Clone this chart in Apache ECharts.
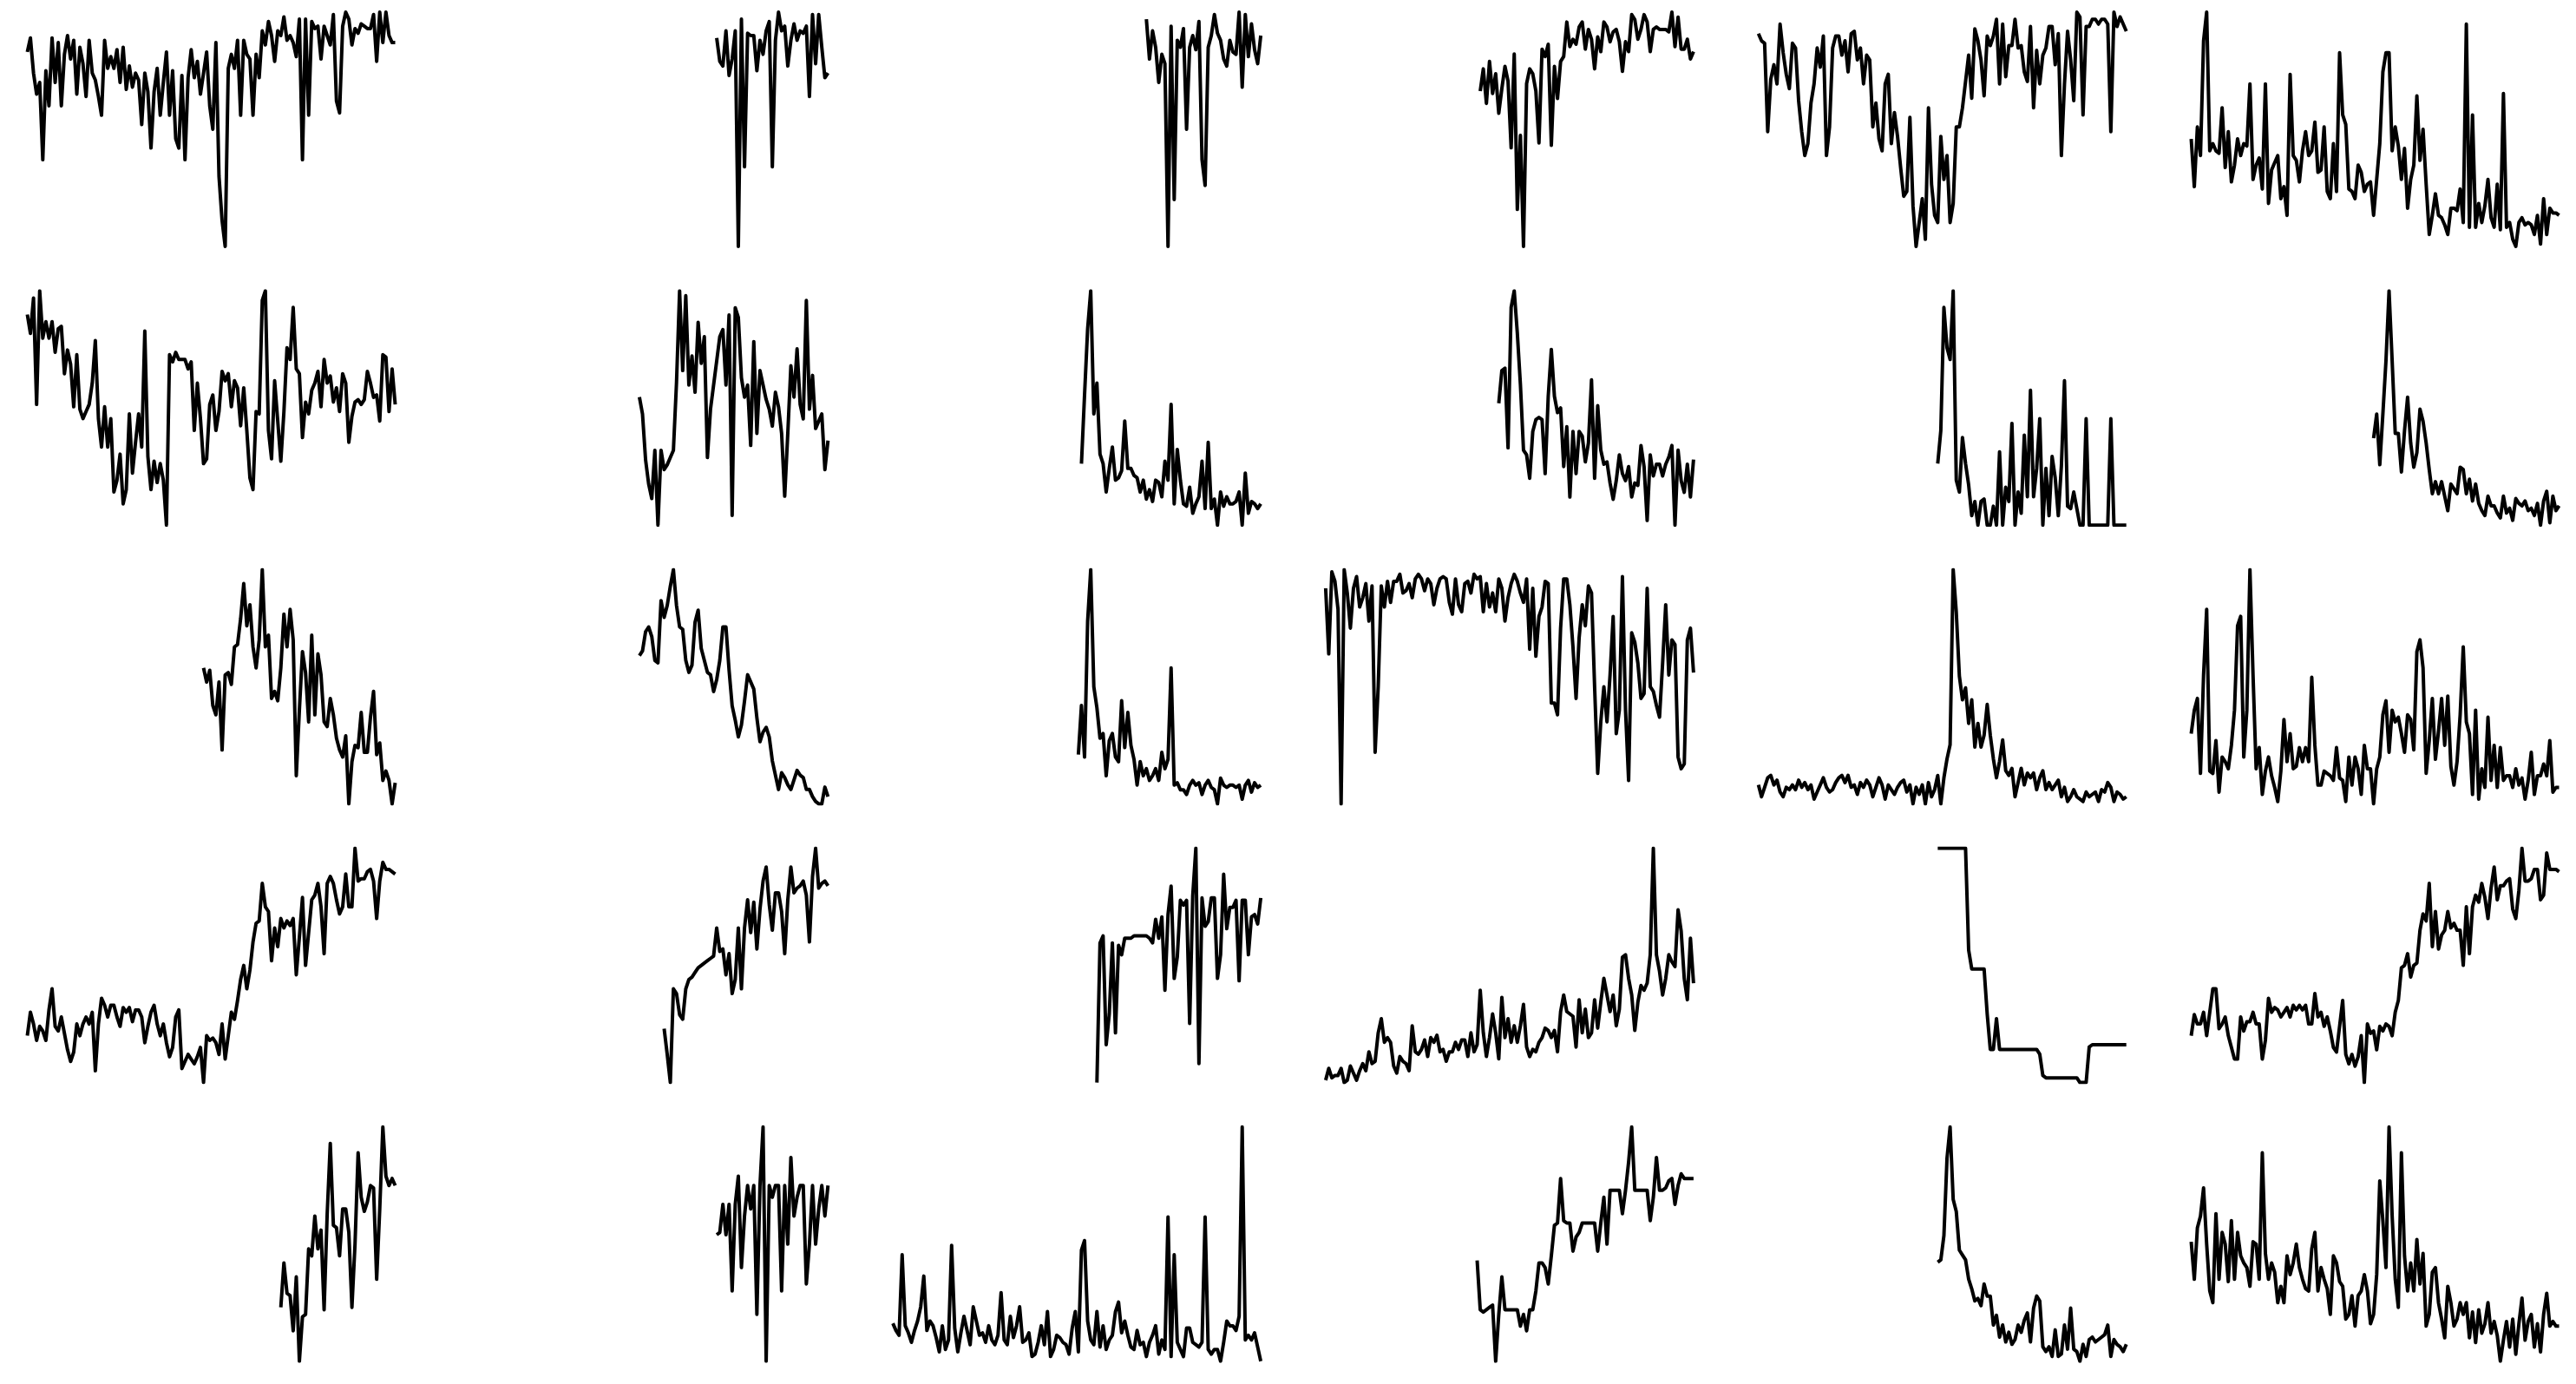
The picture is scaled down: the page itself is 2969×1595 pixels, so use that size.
<!DOCTYPE html>
<html>
<head>
<meta charset="utf-8">
<script src="https://cdn.jsdelivr.net/npm/echarts@6/dist/echarts.min.js"></script>
<style>
html,body{margin:0;padding:0;background:#fff;}
#chart{width:2969px;height:1595px;}
</style>
</head>
<body>
<div id="chart"></div>
<script>
// Shared time axis: 120 periods; every series ends at the latest period.
const N = 120;
const periods = Array.from({length: N}, (_, i) => 'P' + (i + 1));

// Row 1
const s01 = [83,89,74,65,70,37,75,60,89,70,87,60,82,90,80,88,65,85,78,64,88,74,71,64,56,88,76,81,76,84,70,85,67,77,68,74,71,52,74,66,42,66,76,56,70,83,56,75,46,42,73,37,72,84,72,79,65,74,83,60,50,87,30,11,0,76,82,76,88,56,88,82,80,56,82,72,92,86,96,90,79,92,90,98,88,90,87,81,97,37,97,56,96,93,94,80,94,90,86,99,62,57,94,100,97,86,93,91,95,94,93,93,99,79,100,87,100,90,87,87];
const s02 = [89,79,77,92,73,80,92,0,97,34,91,90,90,75,88,82,92,96,34,88,100,92,94,77,88,95,88,92,91,94,64,99,78,99,85,72,74];
const s03 = [97,80,92,85,70,82,78,0,94,20,88,85,93,50,85,90,84,96,37,26,85,90,99,91,88,80,77,88,83,82,100,68,99,81,95,84,78,90];
const s04 = [68,77,63,80,67,75,59,69,78,72,45,83,20,50,5,71,77,75,68,47,85,82,87,46,78,65,80,82,96,86,89,87,94,96,85,93,89,77,90,84,96,94,88,92,93,88,76,88,84,99,97,89,93,99,96,84,93,94,93,93,93,92,100,86,98,85,85,89,81,84];
const s05 = [91,88,87,50,72,78,70,95,83,74,68,87,85,63,50,40,45,62,70,85,77,90,40,52,85,90,90,82,88,75,91,92,80,85,70,82,80,52,62,47,42,70,74,45,58,48,35,23,25,56,19,2,12,22,5,60,28,15,12,48,30,40,12,20,52,52,60,71,82,64,93,88,80,65,90,86,90,97,70,95,73,86,86,97,85,86,75,71,94,60,84,70,82,85,94,94,78,91,40,70,92,80,63,100,98,57,94,94,97,97,95,97,97,95,50,100,94,98,95,92];
const s06 = [47,27,52,40,88,100,42,45,42,41,60,35,50,29,36,47,40,45,44,70,30,36,39,26,70,20,34,37,40,22,27,15,74,40,38,29,42,50,40,42,54,33,34,52,25,22,45,25,83,57,53,26,25,22,36,33,25,28,29,15,30,45,75,83,83,42,52,44,30,43,18,30,36,65,38,51,28,7,15,24,15,14,11,7,18,18,17,26,12,95,10,57,10,20,12,19,30,14,10,28,9,66,10,12,5,2,12,14,11,12,11,7,15,3,22,7,18,16,16,15];
// Row 2
const s07 = [89,81,96,51,99,79,86,79,86,73,83,84,64,74,68,50,72,49,45,48,51,60,78,45,33,50,33,45,14,19,30,9,15,47,22,35,47,33,82,29,15,27,18,26,19,0,72,69,73,70,70,70,66,69,40,60,45,26,28,51,55,40,48,65,61,64,50,61,58,42,58,40,20,15,48,47,95,99,40,28,61,44,27,48,75,70,92,66,64,37,52,47,57,60,65,50,70,60,63,52,58,48,64,60,35,46,52,53,51,53,65,60,54,55,44,72,71,48,66,51];
const s08 = [55,48,29,19,13,33,2,33,25,27,30,33,61,99,66,97,60,72,57,86,69,80,30,50,60,70,80,83,60,89,6,92,88,63,55,60,35,78,40,66,60,54,50,43,57,51,40,14,40,68,55,75,52,46,95,50,64,42,45,48,25,37];
const s09 = [26,55,83,99,47,60,30,26,14,24,33,19,20,23,44,24,24,21,20,14,19,11,15,10,19,18,12,27,19,51,9,32,19,9,8,16,5,9,12,27,7,35,7,11,0,14,8,12,9,9,10,14,0,22,5,10,9,7,9];
const s10 = [52,66,67,33,93,100,82,60,32,30,20,40,45,46,45,22,55,75,55,48,50,25,42,12,40,22,40,38,27,35,62,20,51,32,26,27,18,11,19,30,22,19,25,12,18,17,34,25,2,30,21,26,26,21,26,29,34,0,32,19,14,26,12,28];
const s11 = [26,40,92,75,70,99,19,14,37,26,17,4,10,0,10,11,0,0,8,0,31,0,16,10,43,0,14,5,38,12,57,12,24,45,0,24,4,29,20,4,25,61,8,7,14,7,0,0,45,0,0,0,0,0,0,0,45,0,0,0,0,0];
const s12 = [38,48,27,48,70,99,70,40,40,24,41,55,36,26,32,50,45,36,25,15,20,15,20,14,8,19,17,15,26,25,15,21,12,19,11,8,6,14,10,10,7,5,14,7,9,4,13,11,10,12,8,9,6,11,2,12,16,3,14,8,10];
// Row 3
const s13 = [58,52,57,42,38,52,23,55,56,51,67,68,79,94,76,85,67,58,70,100,67,72,45,48,44,58,81,67,83,70,12,40,65,56,35,72,38,64,55,35,33,45,38,28,23,20,29,0,18,25,24,39,22,22,37,48,21,26,10,14,10,0,9];
const s14 = [64,66,74,76,72,62,61,87,80,85,93,100,85,76,75,62,57,60,78,83,67,62,57,56,49,54,62,76,76,58,43,37,30,35,45,56,53,50,38,28,32,34,30,20,14,8,15,13,10,8,12,16,14,13,8,8,5,3,2,2,9,5];
const s15 = [21,42,20,78,100,50,41,28,30,12,27,30,20,18,44,24,39,25,19,8,18,12,15,10,12,15,10,22,15,19,58,8,9,6,6,4,8,10,8,9,4,8,10,7,6,0,11,8,7,8,8,7,8,2,8,10,5,9,7,8];
const s16 = [92,64,99,95,83,0,100,90,75,92,97,84,88,94,78,93,22,50,93,84,95,86,95,95,98,90,91,94,88,96,98,96,91,96,94,85,92,96,97,96,86,81,96,85,82,94,95,90,98,96,97,82,94,84,90,82,96,92,78,88,94,98,95,90,86,96,66,92,63,80,84,95,94,43,43,38,75,96,96,85,67,45,71,85,76,93,90,50,13,35,50,35,55,80,30,40,97,40,10,73,69,60,45,47,92,50,48,42,37,60,85,55,70,68,20,15,17,70,75,56];
const s17 = [9,4,8,12,13,9,11,6,4,8,7,9,7,11,8,10,7,9,3,6,9,12,8,6,7,10,12,13,10,13,8,9,5,10,8,11,9,4,8,12,9,3,9,7,5,8,10,11,6,9,1,8,5,9,1,10,4,7,13,1,12,20,26,100,82,55,45,50,35,45,25,35,25,30,43,30,20,12,19,28,15,13,16,4,10,16,9,14,12,14,7,12,15,7,10,7,9,11,4,8,2,4,7,4,3,2,6,4,5,6,2,7,6,10,8,2,6,5,3,4];
const s18 = [30,40,45,13,55,83,14,13,27,5,20,18,15,25,40,76,80,20,40,100,55,15,24,4,14,20,12,7,1,14,36,18,30,15,16,24,18,24,18,54,25,8,8,14,13,12,10,24,11,10,1,20,8,20,15,4,25,15,15,0,15,20,38,44,22,40,35,37,30,22,38,36,23,65,70,58,13,27,45,19,31,45,25,46,16,8,18,38,67,35,30,4,40,2,15,7,37,10,25,7,24,10,12,12,7,15,8,11,2,10,22,4,12,12,17,12,27,5,7,7];
// Row 4
const s19 = [20,30,25,18,24,22,18,31,40,24,22,28,21,14,9,13,25,20,25,28,25,30,5,25,36,33,28,33,33,28,24,32,30,32,26,31,31,28,17,24,30,33,25,20,25,17,11,15,28,31,6,9,12,10,8,11,15,0,20,18,19,17,12,25,10,20,30,27,35,44,50,40,48,60,68,69,85,75,73,52,66,58,70,66,69,67,70,46,62,79,50,64,78,80,85,75,55,85,88,85,78,72,75,89,75,75,100,86,87,87,90,91,86,70,86,94,91,91,90,89];
const s20 = [23,12,0,40,38,29,27,40,44,45,47,49,50,51,52,53,54,66,56,57,46,55,38,44,66,40,66,78,64,77,57,74,86,92,76,65,81,81,73,55,78,92,81,83,84,86,80,60,88,100,83,85,86,84];
const s21 = [1,60,63,17,30,60,22,59,55,62,62,62,63,63,63,63,63,62,60,70,62,71,40,72,84,45,54,78,76,78,26,80,100,9,79,67,69,79,79,45,55,89,66,75,75,78,44,78,78,55,71,72,68,79];
const s22 = [2,7,3,4,4,7,1,2,8,5,2,6,9,6,14,9,10,22,28,18,20,18,8,5,12,10,9,6,25,14,13,15,19,12,20,18,21,14,15,10,14,14,18,15,19,19,12,22,14,17,40,22,12,20,30,22,11,37,20,28,18,25,18,25,34,16,12,15,14,18,20,24,23,20,23,14,31,38,31,30,29,16,36,22,32,20,22,36,24,35,45,38,31,38,25,32,54,55,45,38,23,35,42,40,43,55,100,55,48,38,45,55,52,50,74,65,45,36,62,43];
const s23 = [100,100,100,100,100,100,100,100,100,100,57,49,49,49,49,49,30,15,15,28,15,15,15,15,15,15,15,15,15,15,15,15,15,13,4,3,3,3,3,3,3,3,3,3,3,3,1,1,1,16,17,17,17,17,17,17,17,17,17,17,17,17];
const s24 = [20,29,25,25,30,20,30,40,40,23,25,28,20,15,10,10,28,22,26,26,30,25,25,10,18,36,30,32,31,28,30,32,28,33,31,33,31,33,25,25,38,28,30,24,28,22,15,13,24,35,12,8,12,7,11,20,0,25,21,22,14,24,22,25,24,20,30,35,49,50,55,45,50,51,65,72,69,85,58,73,57,63,65,73,66,68,65,65,50,75,55,75,80,77,85,79,70,83,92,78,84,84,86,87,74,70,82,100,86,86,87,91,91,78,80,98,91,91,91,90];
// Row 5
const s25 = [23,42,29,28,13,36,0,19,20,48,45,62,48,56,22,63,93,58,57,45,65,65,55,23,50,89,70,64,68,75,74,35,65,100,79,75,78,75];
const s26 = [54,55,67,54,67,30,67,79,40,62,75,65,75,20,75,100,0,75,70,75,75,30,75,50,87,62,70,75,75,33,50,75,50,65,75,62,75];
const s27 = [17,14,12,46,16,13,9,14,18,24,37,14,18,16,11,5,16,6,10,50,15,5,13,20,14,8,24,18,12,13,9,16,10,8,12,30,10,8,20,11,16,24,9,10,13,3,4,9,16,8,22,3,6,12,11,9,8,4,15,22,5,48,52,18,10,8,22,7,16,6,10,12,22,26,13,18,12,7,6,14,8,9,3,9,12,16,4,10,6,62,3,46,9,6,3,15,15,9,8,7,9,62,6,4,6,6,1,9,18,16,16,14,20,100,10,12,10,13,7,1];
const s28 = [43,22,21,22,23,24,0,20,36,22,22,22,22,22,15,20,13,22,22,30,42,42,40,33,45,58,59,78,60,59,59,47,53,55,59,59,59,59,59,47,59,70,50,73,73,73,73,63,73,85,100,73,73,73,73,73,60,70,87,73,73,74,77,78,67,75,80,78,78,78,78];
const s29 = [44,45,55,87,100,70,65,49,47,45,37,33,28,29,26,35,30,30,18,22,13,18,11,15,10,12,18,15,20,23,11,25,30,28,9,7,9,5,16,5,6,18,8,25,8,7,3,10,5,12,13,11,12,13,14,18,5,12,10,9,7,10];
const s30 = [51,35,57,62,74,50,30,25,63,35,55,50,34,60,35,55,45,42,40,32,51,50,35,89,46,35,42,38,25,32,25,45,37,42,50,40,35,31,30,48,55,30,40,35,31,20,45,42,34,32,18,20,28,15,28,30,37,30,16,20,37,77,60,40,100,62,35,23,89,45,30,42,30,52,33,46,15,20,38,40,25,18,10,32,25,15,18,25,20,25,10,21,8,22,12,16,25,12,17,11,0,9,17,6,18,3,16,27,9,17,20,6,16,4,20,29,15,17,15,15];

const panels = [s01,s02,s03,s04,s05,s06,s07,s08,s09,s10,s11,s12,s13,s14,s15,s16,s17,s18,s19,s20,s21,s22,s23,s24,s25,s26,s27,s28,s29,s30];

const COLS = 6;
const grid = [], xAxis = [], yAxis = [], series = [];
panels.forEach((vals, k) => {
  const r = Math.floor(k / COLS), c = k % COLS;
  grid.push({left: 31.5 + 498.8 * c, top: 14 + 321.2 * r, width: 424, height: 270});
  xAxis.push({type: 'category', data: periods, boundaryGap: false, show: false, gridIndex: k});
  yAxis.push({type: 'value', min: 'dataMin', max: 'dataMax', scale: true, show: false, gridIndex: k});
  const padded = new Array(N - vals.length).fill(null).concat(vals);
  series.push({
    type: 'line', xAxisIndex: k, yAxisIndex: k, data: padded,
    showSymbol: false, symbol: 'none', connectNulls: false, silent: true,
    lineStyle: {color: '#000', width: 4, join: 'round', cap: 'butt'}
  });
});

const chart = echarts.init(document.getElementById('chart'), null, {renderer: 'canvas'});
chart.setOption({
  backgroundColor: '#fff',
  animation: false,
  grid, xAxis, yAxis, series
});
</script>
</body>
</html>
